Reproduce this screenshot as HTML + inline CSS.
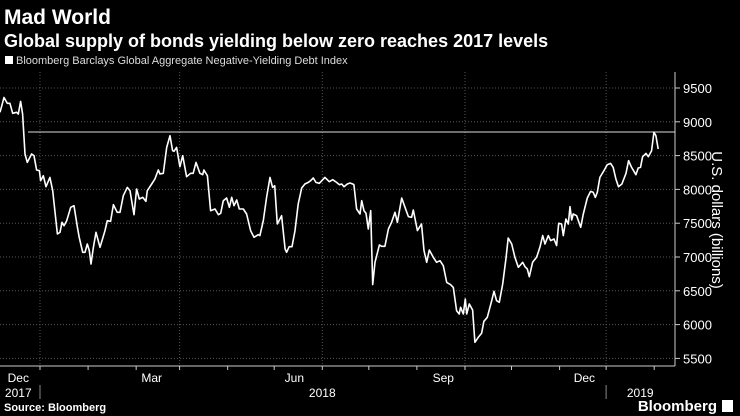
<!DOCTYPE html>
<html><head><meta charset="utf-8"><style>
body{margin:0;background:#000;width:740px;height:416px;overflow:hidden;font-family:"Liberation Sans","DejaVu Sans",sans-serif;color:#fff}
svg{position:absolute;left:0;top:0}
</style></head><body>
<svg id="chart" width="740" height="416">
<text x="4" y="24" font-size="21" font-weight="bold" fill="#fff">Mad World</text>
<text x="4" y="47" font-size="18" font-weight="bold" fill="#fff">Global supply of bonds yielding below zero reaches 2017 levels</text>
<rect x="5" y="56" width="8" height="8" fill="#fff"/>
<text x="16" y="64" font-size="11" fill="#ddd">Bloomberg Barclays Global Aggregate Negative-Yielding Debt Index</text>
<g id="grid"></g><g id="axes"></g><g id="series"></g>
<text x="4" y="411" font-size="11" font-weight="bold" fill="#fff">Source: Bloomberg</text>
<text x="717" y="411" font-size="15" font-weight="bold" fill="#fff" text-anchor="end">Bloomberg</text>
<rect x="722" y="400" width="11" height="12" fill="#fff"/>
<text transform="translate(712,220) rotate(90)" font-size="15" fill="#fff" text-anchor="middle">U.S. dollars (billions)</text>
</svg>
<script>
const days=[-25.8,-23.2,-21.1,-19.4,-17.6,-15.1,-14,-12.5,-11.2,-9.7,-8.2,-5.4,-3.9,-2.2,-0.4,0.4,2.1,3.9,6.4,8.2,11.2,12.9,14.2,15.5,17.2,19.8,21.9,24.1,25.3,27.5,29,30.5,31.8,32.9,34.4,36.1,38.7,41.9,43.4,45.5,47.3,49.8,51.6,53.7,56.3,58,60.6,62.3,64,66.2,68.3,69.2,72,74.1,76.3,77.4,79.5,81.7,83.8,85.5,86.4,88.1,90.2,92,94.5,97.1,98.8,100.6,103.1,104.9,105.7,107.9,110,112.8,115,116.5,118.2,120.3,122.1,123.6,125.1,126.8,128.5,131.1,133.2,135.8,138,140.7,141.8,144,146.1,148.3,150,151.3,153,155.8,158,159,160.7,162.5,164.4,166.5,168.7,170.8,173,174.5,176.2,177.9,180.1,183.7,186.5,188.7,191.2,193,194.5,196,198.1,199.8,201.6,202.4,204.1,206.3,207.4,208.9,210.2,211.7,213.2,214.5,216,218.8,220.3,222.4,224.6,226.7,228.9,230.4,233.2,235.3,237.5,239.6,240.7,243.3,246,247.6,249.3,251,253.6,255.7,257.9,260,262.2,264.7,266.5,268.6,270.3,271.2,272.9,274.2,275.1,276.8,278.9,280.4,282.6,284.7,286.2,288.4,291.2,292.7,294.4,296.1,298.3,300.4,301.9,304.1,306.2,308.4,309.9,311.2,312.7,314.2,315.5,317.6,320.2,322.3,324.1,325.6,327.7,329.2,331.4,333.1,334.4,336.3,337.4,339.1,340.6,341.7,342.8,343.8,346,348.6,350.3,352.9,355,356.7,358,359.3,361,363.6,365.7,367.9,369.6,371.3,373,375.2,377.8,379.5,381.4,384.2,385.7,387.2,388.5,390.7,392.2,394.3,395.8,397.1,398.6];
const values=[9140,9360,9273,9273,9125,9140,9115,9302,9115,8523,8400,8523,8499,8287,8277,8129,8203,8040,8178,7981,7340,7365,7513,7463,7537,7735,7759,7439,7291,7069,7069,7192,7094,6897,7143,7365,7143,7390,7537,7528,7774,7661,7661,7907,8030,7981,7626,8006,7858,7883,7823,7981,8080,8154,8287,8228,8238,8622,8795,8573,8563,8622,8336,8499,8188,8238,8238,8400,8238,8218,8287,8203,7685,7710,7626,7646,7833,7873,7735,7883,7759,7843,7710,7710,7636,7390,7291,7330,7316,7537,7883,8178,8030,8055,7488,7611,7118,7069,7153,7153,7390,7784,8021,8080,8104,8129,8168,8104,8090,8178,8114,8144,8104,8070,8080,8040,8080,8095,8080,8070,7710,7636,7833,7685,7646,7414,7685,6591,6921,7178,7158,7158,7414,7513,7661,7513,7873,7735,7597,7587,7695,7390,7488,7094,6921,7104,6995,6921,6946,6872,6625,6591,6551,6206,6157,6256,6157,6379,6157,6305,6216,5738,5812,5871,6049,6108,6354,6492,6354,6330,6601,6970,7281,7192,6995,6848,6887,6921,6857,6823,6709,6921,6995,7143,7316,7192,7316,7242,7266,7168,7498,7488,7316,7562,7488,7744,7547,7636,7611,7439,7636,7873,7971,7957,7882,7957,8178,8277,8366,8385,8326,8154,8040,8080,8238,8425,8326,8218,8316,8326,8484,8533,8484,8573,8844,8795,8598];
const yTicks=[5500,6000,6500,7000,7500,8000,8500,9000,9500];
const monthLabels=["Dec","Mar","Jun","Sep","Dec"];
const monthLabelDays=[-14,72,164,260,351];
const gridDays=[0,90,182,274,365];
const monthTickDays=[-30,0,31,62,90,121,151,182,212,243,274,304,335,365,396];
const yearLabels=["2017","2018","2019"];
const yearLabelDays=[-14,182,387];
const yearSepDays=[0,365];
const refValue=8850;
const x=d=>40+d*1.551, y=v=>88+(9500-v)*0.0676;
const NS="http://www.w3.org/2000/svg";
function mk(p,t,a){const e=document.createElementNS(NS,t);for(const k in a)e.setAttribute(k,a[k]);p.appendChild(e);return e;}
const grid=document.getElementById('grid'),axes=document.getElementById('axes'),series=document.getElementById('series');
yTicks.forEach(v=>{
 const l=mk(grid,'line',{x1:0,x2:675,y1:y(v),y2:y(v),stroke:'#555','stroke-dasharray':'1,2','stroke-width':1});
 
 
 const t=mk(axes,'line',{x1:675,x2:680,y1:y(v),y2:y(v),stroke:'#ccc'});
 
 
 const tx=mk(axes,'text',{x:683,y:y(v)+5,'font-size':13,fill:'#fff'});tx.textContent=v;
 
 
});
gridDays.forEach(d=>{
 const l=mk(grid,'line',{x1:x(d),x2:x(d),y1:72,y2:366,stroke:'#555','stroke-dasharray':'1,2'});
 
 
});
monthTickDays.forEach(d=>{if(x(d)<0||x(d)>675)return;
 const t=mk(axes,'line',{x1:x(d),x2:x(d),y1:366,y2:370,stroke:'#ccc'});
 
 
});
monthLabels.forEach((m,i)=>{const t=mk(axes,'text',{x:x(monthLabelDays[i]),y:382,'font-size':12,fill:'#fff','text-anchor':'middle'});t.textContent=m;
 
 
});
yearLabels.forEach((m,i)=>{const t=mk(axes,'text',{x:x(yearLabelDays[i]),y:397,'font-size':12,fill:'#fff','text-anchor':'middle'});t.textContent=m;
 
 
});
yearSepDays.forEach(d=>{const l=mk(axes,'line',{x1:x(d),x2:x(d),y1:385,y2:399,stroke:'#888'});
 
 
});
const xa=mk(axes,'line',{x1:0,x2:675,y1:366,y2:366,stroke:'#ccc'});


const ya=mk(axes,'line',{x1:675,x2:675,y1:72,y2:366,stroke:'#ccc'});


const ref=mk(series,'line',{x1:28,x2:675,y1:y(refValue),y2:y(refValue),stroke:'#ddd','stroke-width':1});


const pts=days.map((d,i)=>x(d).toFixed(1)+','+y(values[i]).toFixed(1)).join(' ');
const pl=mk(series,'polyline',{points:pts,fill:'none',stroke:'#fff','stroke-width':1.6,'stroke-linejoin':'round'});


</script>
</body></html>
